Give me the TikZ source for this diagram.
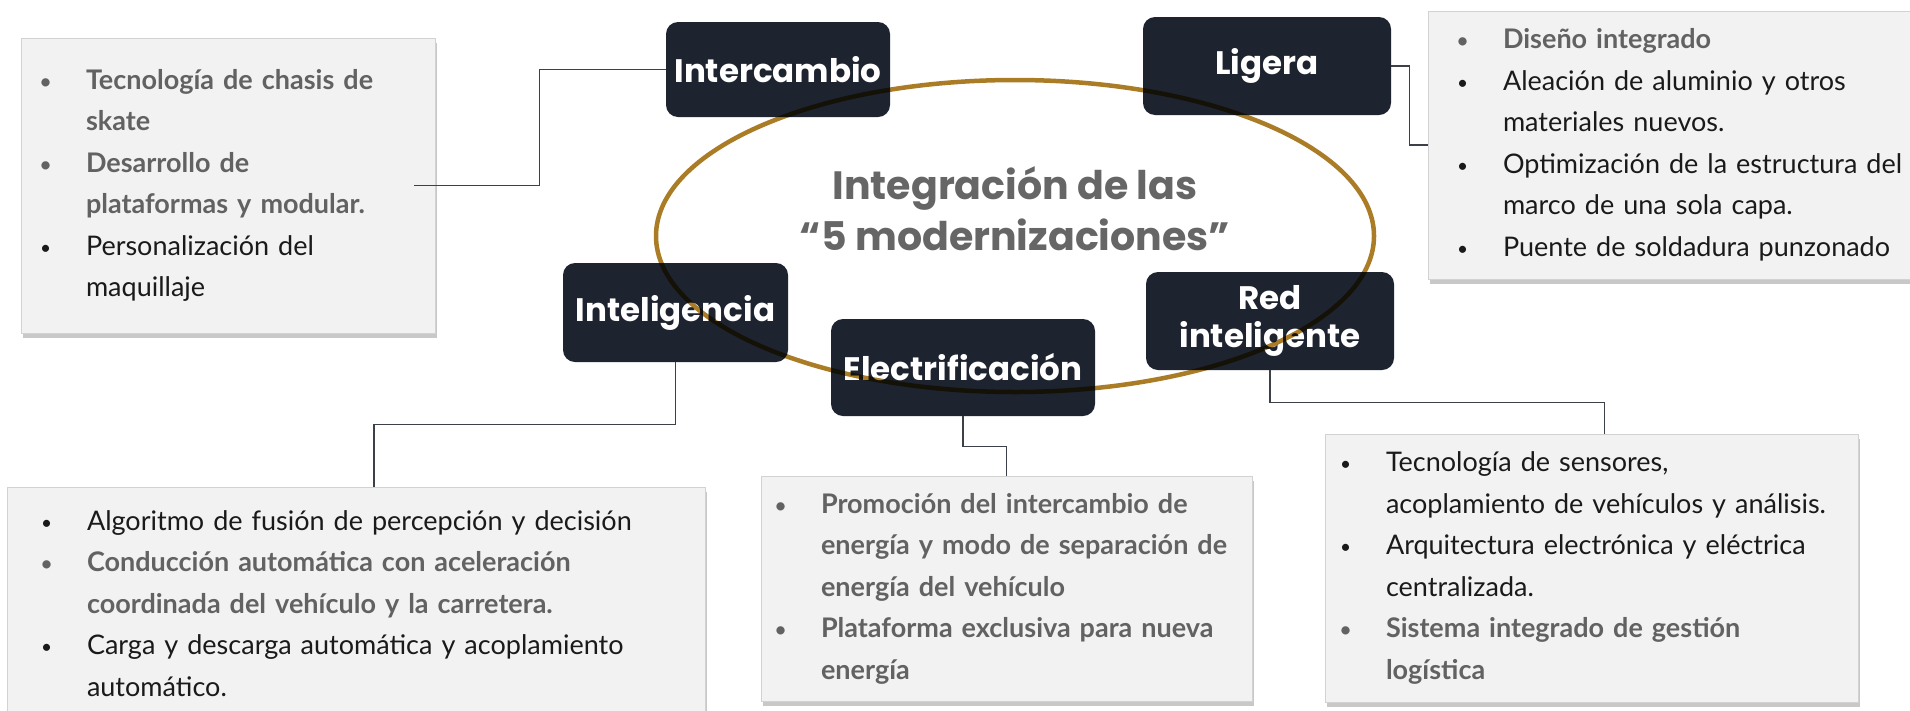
\documentclass[tikz,border=0pt]{standalone}
\usepackage{fontspec}
\setmainfont{Lato}[BoldFeatures={WordSpace=0.85}]
\newfontfamily\headfont{Poppins}
\usetikzlibrary{shadows}

\definecolor{navy}{HTML}{1E2330}
\definecolor{cardfill}{HTML}{F2F2F2}
\definecolor{cardline}{HTML}{D2D2D2}
\definecolor{bodytxt}{HTML}{1A1A1A}
\definecolor{graytxt}{HTML}{626262}
\definecolor{titlec}{HTML}{666666}
\definecolor{wirec}{HTML}{3C4048}
\definecolor{goldc}{HTML}{AB7C26}

% one line of a list: bullet line, continuation line, bold grey variants
\newcommand{\dotmark}{\makebox[46pt][l]{\raisebox{1pt}{\fontsize{19}{19}\selectfont\textbullet}}}
\newcommand{\itm}[1]{\mbox{\dotmark#1}}
\newcommand{\cnt}[1]{\mbox{\hspace*{46pt}#1}}
\newcommand{\bitm}[1]{{\bfseries\color{graytxt}\mbox{\dotmark#1}}}
\newcommand{\bcnt}[1]{{\bfseries\color{graytxt}\mbox{\hspace*{46pt}#1}}}

\begin{document}
\begin{tikzpicture}[x=1pt, y=-1pt,
  pill/.style={fill=navy, rounded corners=12pt, text=white, align=center,
    font=\headfont\fontsize{32.5}{38}\selectfont\bfseries, inner sep=0pt},
  card/.style={fill=cardfill, draw=cardline, line width=0.8pt, align=left,
    font=\fontsize{27}{41.5}\selectfont, text=bodytxt, inner ysep=0pt,
    drop shadow={shadow xshift=2pt, shadow yshift=-5pt, opacity=0.3, fill=black!70}},
  wire/.style={draw=wirec, line width=1.3pt}]
  \useasboundingbox (0,0) rectangle (1910,710);
  \fill[white] (0,0) rectangle (1910,710);

  % lists
  \node[card, text width=376, inner xsep=19, minimum height=295] (boxA) at (228,185.5)
    {\bitm{Tecnología de chasis de}\\ \bcnt{skate}\\ \bitm{Desarrollo de}\\
     \bcnt{plataformas y modular.}\\ \itm{Personalización del}\\ \cnt{maquillaje}};
  \node[card, text width=474, inner xsep=29, minimum height=268] (boxB) at (1694,145)
    {\bitm{Diseño integrado}\\ \itm{Aleación de aluminio y otros}\\ \cnt{materiales nuevos.}\\
     \itm{Optimización de la estructura del}\\ \cnt{marco de una sola capa.}\\
     \itm{Puente de soldadura punzonado}};
  \node[card, text width=630, inner xsep=34, minimum height=274] (boxC) at (356,624)
    {\itm{Algoritmo de fusión de percepción y decisión}\\
     \bitm{Conducción automática con aceleración}\\
     \bcnt{coordinada del vehículo y la carretera.}\\
     \itm{Carga y descarga automática y acoplamiento}\\ \cnt{automático.}\\ \mbox{}};
  \node[card, text width=463, inner xsep=14, minimum height=225] (boxD) at (1006.5,588.5)
    {\bitm{Promoción del intercambio de}\\ \bcnt{energía y modo de separación de}\\
     \bcnt{energía del vehículo}\\ \bitm{Plataforma exclusiva para nueva}\\ \bcnt{energía}};
  \node[card, text width=503, inner xsep=15, minimum height=268] (boxE) at (1591.5,568)
    {\itm{Tecnología de sensores,}\\ \cnt{acoplamiento de vehículos y análisis.}\\
     \itm{Arquitectura electrónica y eléctrica}\\ \cnt{centralizada.}\\
     \bitm{Sistema integrado de gestión}\\ \bcnt{logística}};

  % the five headings
  \node[pill, minimum width=224, minimum height=95] (inter) at (778,69.5) {Intercambio};
  \node[pill, minimum width=248, minimum height=98] (lig) at (1267,66) {Ligera};
  \node[pill, minimum width=225, minimum height=99] (intel) at (675.5,312.5) {Inteligencia};
  \node[pill, minimum width=264, minimum height=97] (elec) at (963,367.5) {Electrificación};
  \node[pill, minimum width=248, minimum height=98] (red) at (1270,321) {Red\\inteligente};

  \node[font=\headfont\fontsize{39.5}{51}\selectfont\bfseries, text=titlec, align=center] (title)
    at (1015,209) {Integración de las\\“5 modernizaciones”};
  \draw[goldc, line width=4.5pt, blend mode=multiply] (1015,236) ellipse [x radius=359pt, y radius=156pt];

  % connectors
  \draw[wire] (inter.west) -- ++(-126,0) |- ([xshift=-21pt]boxA.east);
  \draw[wire] (lig.east) -- ++(18,0) |- (boxB.west);
  \draw[wire] (intel.south) -- ++(0,62) -| ([xshift=18pt]boxC.north);
  \draw[wire] (elec.south) -- ++(0,30) -| (boxD.north);
  \draw[wire] (red.south) -- ++(0,32) -| ([xshift=13pt]boxE.north);
\end{tikzpicture}
\end{document}
